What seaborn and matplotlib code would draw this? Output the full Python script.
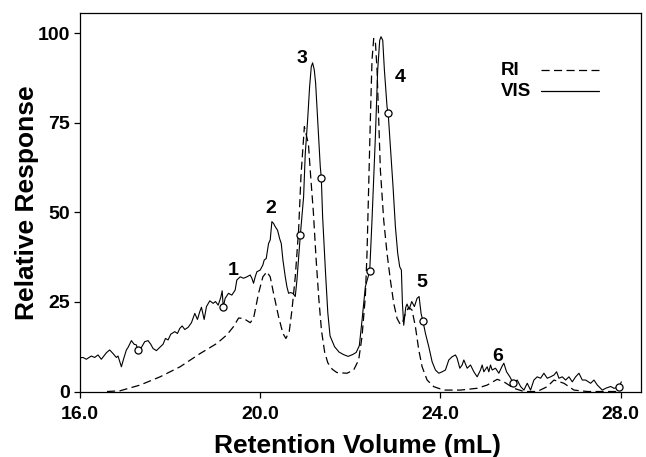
import matplotlib
matplotlib.use("Agg")
import matplotlib.pyplot as plt
import seaborn as sns
import pandas as pd

# ---------------- data ----------------
vis_x = [16.0, 16.067, 16.141, 16.252, 16.326, 16.4, 16.474, 16.585, 16.659, 16.733,
         16.807, 16.844, 16.919, 16.978, 17.03, 17.067, 17.141, 17.2, 17.252, 17.28,
         17.304, 17.363, 17.437, 17.511, 17.57, 17.622, 17.696, 17.77, 17.844, 17.896,
         17.956, 18.015, 18.104, 18.163, 18.215, 18.267, 18.326, 18.4, 18.474, 18.548,
         18.607, 18.659, 18.696, 18.756, 18.807, 18.881, 18.956, 19.007, 19.067, 19.126,
         19.156, 19.18, 19.222, 19.296, 19.37, 19.444, 19.481, 19.556, 19.63, 19.704,
         19.778, 19.815, 19.852, 19.889, 19.926, 20.0, 20.059, 20.089, 20.133, 20.185,
         20.222, 20.259, 20.296, 20.333, 20.385, 20.43, 20.467, 20.504, 20.556, 20.593,
         20.63, 20.667, 20.726, 20.778, 20.815, 20.89, 20.963, 21.0, 21.052, 21.096,
         21.133, 21.163, 21.2, 21.23, 21.259, 21.296, 21.333, 21.356, 21.385, 21.45,
         21.5, 21.55, 21.65, 21.75, 21.85, 21.95, 22.05, 22.13, 22.2, 22.26,
         22.333, 22.43, 22.481, 22.556, 22.607, 22.652, 22.681, 22.719, 22.756, 22.815,
         22.84, 22.889, 22.948, 23.0, 23.052, 23.096, 23.133, 23.156, 23.185, 23.23,
         23.259, 23.304, 23.363, 23.422, 23.481, 23.526, 23.57, 23.61, 23.667, 23.741,
         23.815, 23.889, 23.963, 24.037, 24.111, 24.185, 24.259, 24.333, 24.37, 24.43,
         24.481, 24.519, 24.593, 24.667, 24.741, 24.815, 24.889, 24.926, 24.963, 25.037,
         25.074, 25.111, 25.148, 25.222, 25.296, 25.37, 25.407, 25.467, 25.541, 25.615,
         25.704, 25.778, 25.852, 25.926, 26.0, 26.074, 26.148, 26.222, 26.296, 26.37,
         26.444, 26.519, 26.578, 26.63, 26.704, 26.778, 26.852, 26.926, 27.0, 27.074,
         27.148, 27.222, 27.333, 27.407, 27.481, 27.593, 27.667, 27.778, 27.852, 27.963,
         28.015]
vis_y = [9.4, 9.5, 9.0, 9.9, 9.5, 10.2, 9.0, 10.8, 11.6, 10.6,
         9.5, 9.9, 6.9, 9.5, 11.6, 12.3, 14.2, 13.2, 13.0, 11.6,
         11.8, 12.3, 13.9, 14.2, 13.2, 12.0, 11.4, 12.3, 13.2, 14.8,
         14.4, 16.0, 16.7, 16.2, 17.6, 18.3, 17.3, 17.9, 19.2, 21.8,
         20.1, 22.3, 23.5, 20.1, 23.7, 25.3, 24.6, 25.1, 24.1, 26.3,
         28.1, 23.5, 26.0, 27.4, 26.9, 28.3, 31.1, 32.0, 31.6, 32.0,
         32.5, 31.6, 30.2, 32.0, 33.4, 33.9, 35.3, 36.7, 37.1, 41.3,
         42.3, 47.4, 46.9, 46.0, 45.0, 42.7, 41.3, 36.7, 32.0, 29.2,
         27.4, 27.6, 27.4, 26.5, 31.1, 43.6, 54.3, 66.4, 75.7, 85.0,
         90.6, 91.7, 89.7, 86.0, 79.4, 71.1, 62.7, 59.6, 48.8, 33.0,
         22.0, 15.5, 12.5, 11.0, 10.3, 9.8, 10.3, 10.9, 12.8, 19.9,
         29.2, 33.6, 47.8, 71.1, 89.7, 98.0, 99.0, 98.0, 89.7, 79.4,
         77.6, 68.3, 57.1, 46.0, 38.5, 34.8, 33.9, 24.6, 18.5, 23.5,
         24.4, 22.9, 25.1, 23.7, 26.0, 26.5, 21.8, 19.7, 16.2, 12.5,
         8.3, 6.0, 5.1, 5.5, 6.0, 8.8, 9.7, 10.2, 9.3, 6.5,
         7.4, 8.8, 6.5, 7.4, 5.5, 4.1, 6.0, 7.4, 5.5, 6.9,
         5.5, 7.4, 6.0, 6.5, 5.1, 7.1, 7.9, 5.5, 4.1, 2.3,
         3.2, 1.4, 0.4, 2.3, 0.4, 3.2, 4.1, 3.7, 5.1, 3.7,
         4.1, 4.6, 5.5, 3.7, 4.1, 3.2, 4.1, 2.7, 4.1, 5.1,
         3.2, 3.2, 2.3, 3.2, 1.8, 0.4, 0.9, 1.4, 0.9, 1.2,
         2.7]

ri_x = [16.6, 16.889, 17.333, 17.778, 18.222, 18.667, 19.037, 19.26, 19.407, 19.52,
        19.63, 19.778, 19.852, 19.963, 20.059, 20.148, 20.222, 20.296, 20.407, 20.504,
        20.57, 20.644, 20.704, 20.778, 20.852, 20.904, 20.98, 21.07, 21.12, 21.18,
        21.24, 21.3, 21.36, 21.43, 21.5, 21.6, 21.7, 21.8, 21.926, 22.074,
        22.185, 22.259, 22.333, 22.37, 22.407, 22.444, 22.481, 22.519, 22.556, 22.593,
        22.63, 22.667, 22.741, 22.815, 22.889, 22.963, 23.037, 23.096, 23.148, 23.222,
        23.296, 23.37, 23.444, 23.519, 23.593, 23.704, 23.852, 24.074, 24.444, 24.815,
        25.037, 25.26, 25.407, 25.63, 25.852, 26.148, 26.37, 26.519, 26.74, 26.963,
        27.26, 28.0]
ri_y = [0.0, 0.2, 1.8, 4.1, 6.9, 10.6, 13.4, 15.8, 18.1, 20.5,
        20.4, 19.2, 20.4, 27.4, 32.0, 33.4, 32.0, 27.4, 20.9, 16.2,
        14.8, 16.7, 22.7, 32.0, 45.0, 60.0, 73.9, 69.0, 60.0, 50.0,
        37.0, 26.0, 17.0, 11.0, 8.0, 6.2, 5.3, 5.2, 5.1, 6.0,
        8.8, 15.3, 26.5, 38.5, 57.1, 75.7, 92.5, 98.5, 97.6, 89.7,
        75.7, 61.8, 47.8, 38.5, 31.1, 24.6, 20.4, 19.0, 18.8, 21.8,
        23.5, 22.7, 18.1, 11.6, 6.9, 3.2, 1.35, 0.4, 0.4, 0.9,
        1.8, 3.4, 2.7, 0.9, 0.0, 0.0, 1.35, 3.2, 2.3, 0.4,
        0.0, 0.0]

marker_x = [17.28, 19.18, 20.89, 21.356, 22.43, 22.84, 23.61, 25.615, 27.963]
marker_y = [11.6, 23.5, 43.6, 59.6, 33.6, 77.6, 19.7, 2.3, 1.2]

peak_labels = ["1", "2", "3", "4", "5", "6"]
peak_label_x = [19.41, 20.24, 20.93, 23.10, 23.58, 25.28]
peak_label_y = [33.9, 51.1, 93.0, 87.6, 30.4, 9.7]

x_ticks = [16.0, 20.0, 24.0, 28.0]
x_tick_labels = ["16.0", "20.0", "24.0", "28.0"]
y_ticks = [0, 25, 50, 75, 100]
legend_labels = ["RI", "VIS"]

# ---------------- style ----------------
sns.set_theme(style="white")
plt.rcParams["font.family"] = ["Liberation Sans", "DejaVu Sans"]
plt.rcParams["font.weight"] = "bold"

fig = plt.figure(figsize=(6.46, 4.57), dpi=100)
ax = fig.add_axes([0.1238, 0.1433, 0.8684, 0.8282])

vis_df = pd.DataFrame({"x": vis_x, "y": vis_y})
ri_df = pd.DataFrame({"x": ri_x, "y": ri_y})
mk_df = pd.DataFrame({"x": marker_x, "y": marker_y})

dash = (0, (6.5, 3.5))
sns.lineplot(data=ri_df, x="x", y="y", ax=ax, color="black", linewidth=0.9,
             linestyle=dash, sort=False)
sns.lineplot(data=vis_df, x="x", y="y", ax=ax, color="black", linewidth=0.8,
             sort=False)
sns.scatterplot(data=mk_df, x="x", y="y", ax=ax, marker="o", s=26,
                facecolor="white", edgecolor="black", linewidth=0.9, zorder=5)

for lab, lx, ly in zip(peak_labels, peak_label_x, peak_label_y):
    ax.text(lx, ly, lab, ha="center", va="center", fontsize=14,
            fontweight="bold", color="black")

ax.set_xlim(16.0, 28.45)
ax.set_ylim(0, 105.6)
ax.set_xticks(x_ticks)
ax.set_xticklabels(x_tick_labels)
ax.set_yticks(y_ticks)
ax.tick_params(axis="both", which="major", direction="out", length=4,
               width=0.9, color="black", labelsize=14, labelcolor="black",
               bottom=True, left=True, top=False, right=False)
ax.tick_params(axis="x", pad=6.5)
ax.tick_params(axis="y", pad=3)
for t in ax.get_xticklabels() + ax.get_yticklabels():
    t.set_fontweight("bold")

for sp in ax.spines.values():
    sp.set_visible(True)
    sp.set_color("black")
    sp.set_linewidth(0.9)

ax.set_xlabel("Retention Volume (mL)", fontsize=19, fontweight="bold", color="black")
ax.set_ylabel("Relative Response", fontsize=19, fontweight="bold", color="black")
ax.xaxis.label.set_va("baseline")
ax.xaxis.set_label_coords(0.495, -0.1625)
ax.yaxis.set_label_coords(-0.0735, 0.5)

# legend (text left, line sample right)
leg_styles = [dash, "-"]
leg_y = [0.849, 0.793]
for lab, ls, yy in zip(legend_labels, leg_styles, leg_y):
    ax.text(0.750, yy, lab, transform=ax.transAxes, ha="left", va="center",
            fontsize=13.5, fontweight="bold", color="black")
    ax.plot([0.822, 0.925], [yy, yy], transform=ax.transAxes, color="black",
            linewidth=0.9, linestyle=ls)

fig.savefig("out.png", dpi=100)
